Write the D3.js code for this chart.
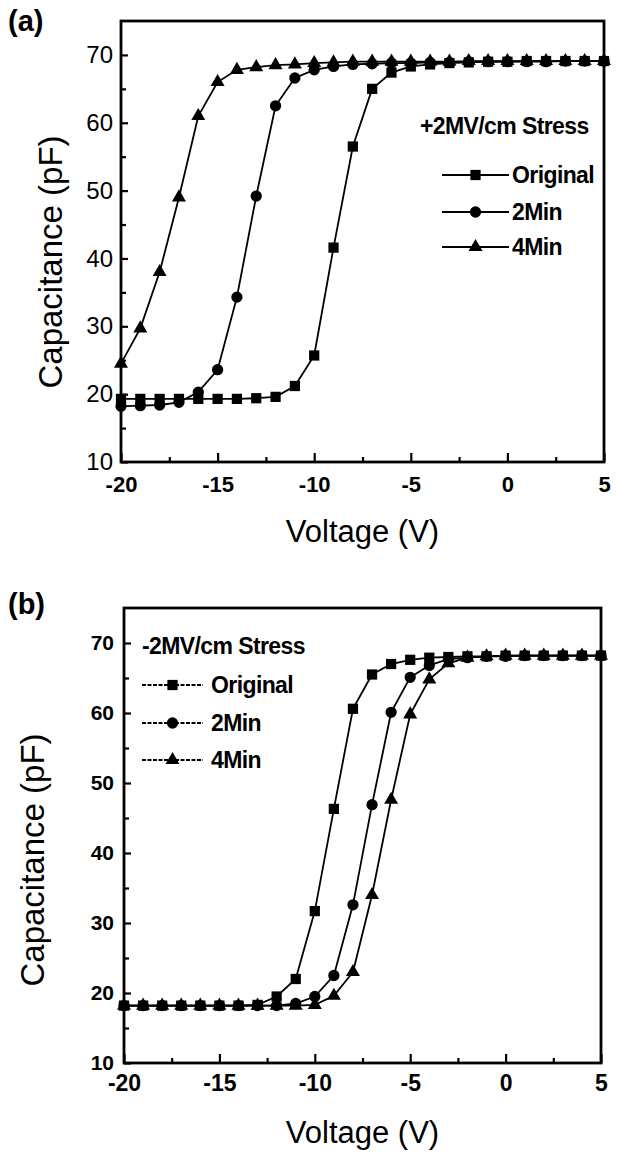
<!DOCTYPE html>
<html><head><meta charset="utf-8">
<script src="https://cdn.jsdelivr.net/npm/d3@7"></script>
<style>
html,body{margin:0;padding:0;background:#fff;}
svg{display:block;font-family:"Liberation Sans",Arial,sans-serif;}
</style></head>
<body><svg id="c" width="618" height="1153"></svg>
<script>
// ---- data ----
const voltages = [-20,-19,-18,-17,-16,-15,-14,-13,-12,-11,-10,-9,-8,-7,-6,-5,-4,-3,-2,-1,0,1,2,3,4,5];
const seriesNames = ["Original","2Min","4Min"];
const xTicks = [-20,-15,-10,-5,0,5];
const xMinorTicks = [-17.5,-12.5,-7.5,-2.5,2.5];
const yTicks = [10,20,30,40,50,60,70];
const yMinorTicks = [15,25,35,45,55,65];

// panel (a): +2MV/cm stress
const origA  = [19.3,19.3,19.3,19.3,19.3,19.3,19.3,19.4,19.6,21.2,25.7,41.6,56.5,65.0,67.4,68.3,68.6,68.8,68.9,69.0,69.0,69.1,69.1,69.1,69.1,69.1];
const twoA   = [18.2,18.3,18.4,18.8,20.3,23.6,34.3,49.2,62.5,66.6,67.8,68.3,68.6,68.7,68.8,68.8,68.9,68.9,69.0,69.0,69.0,69.0,69.0,69.1,69.1,69.1];
const fourA  = [24.5,29.7,38.0,49.0,61.0,66.0,67.8,68.2,68.5,68.6,68.8,68.9,69.0,69.0,69.0,69.0,69.0,69.0,69.1,69.1,69.1,69.1,69.1,69.1,69.1,69.1];

// panel (b): -2MV/cm stress
const origB  = [18.2,18.2,18.2,18.2,18.2,18.2,18.2,18.3,19.5,22.0,31.7,46.3,60.6,65.5,67.0,67.6,67.9,68.0,68.1,68.1,68.2,68.2,68.2,68.2,68.2,68.2];
const twoB   = [18.2,18.2,18.2,18.2,18.2,18.2,18.2,18.2,18.2,18.5,19.5,22.5,32.6,46.9,60.1,65.1,66.8,67.7,67.9,68.1,68.1,68.2,68.2,68.2,68.2,68.2];
const fourB  = [18.2,18.2,18.2,18.2,18.2,18.2,18.2,18.2,18.2,18.2,18.3,19.6,23.0,34.0,47.6,59.8,64.8,67.1,67.9,68.1,68.2,68.2,68.2,68.2,68.2,68.2];

const svg = d3.select("#c");
const symbols = [d3.symbolSquare, d3.symbolCircle, d3.symbolTriangle];
const symSizes = [105, 100, 85];

function panel(cfg){
  const x = d3.scaleLinear().domain([-20,5]).range([cfg.x0,cfg.x1]);
  const y = d3.scaleLinear().domain([10,75]).range([cfg.y1,cfg.y0]);
  const g = svg.append("g");

  // x axis major
  const xa = g.append("g").attr("transform",`translate(0,${cfg.y1})`)
    .call(d3.axisBottom(x).tickValues(xTicks).tickSize(-9).tickPadding(cfg.xPad).tickFormat(d3.format("d")));
  xa.selectAll("text").attr("font-size",cfg.xFont).attr("font-weight","bold").attr("fill","#000")
    .text(d=>d<0?"-"+Math.abs(d):d);
  g.append("g").attr("transform",`translate(0,${cfg.y1})`)
    .call(d3.axisBottom(x).tickValues(xMinorTicks).tickSize(-5).tickFormat(""));
  // y axis major
  const ya = g.append("g").attr("transform",`translate(${cfg.x0},0)`)
    .call(d3.axisLeft(y).tickValues(yTicks).tickSize(-7).tickPadding(cfg.yPad));
  ya.selectAll("text").attr("font-size",cfg.yFont).attr("font-weight",cfg.yBold?"bold":"normal").attr("fill","#000");
  g.append("g").attr("transform",`translate(${cfg.x0},0)`)
    .call(d3.axisLeft(y).tickValues(yMinorTicks).tickSize(-5).tickFormat(""));
  g.selectAll(".domain").remove();
  g.selectAll(".tick line").attr("stroke","#000").attr("stroke-width",2.2);

  // frame
  g.append("rect").attr("x",cfg.x0).attr("y",cfg.y0)
    .attr("width",cfg.x1-cfg.x0).attr("height",cfg.y1-cfg.y0)
    .attr("fill","none").attr("stroke","#000").attr("stroke-width",2.8);

  // series
  const line = d3.line().x((d,i)=>x(voltages[i])).y(d=>y(d));
  cfg.series.forEach((s,k)=>{
    g.append("path").datum(s).attr("d",line).attr("fill","none").attr("stroke","#000").attr("stroke-width",1.8);
  });
  cfg.series.forEach((s,k)=>{
    g.selectAll(null).data(s).enter().append("path")
      .attr("d",d3.symbol().type(symbols[k]).size(symSizes[k]))
      .attr("transform",(d,i)=>`translate(${x(voltages[i])},${y(d)})`)
      .attr("fill","#000");
  });

  // legend
  g.append("text").attr("x",cfg.legTitleX).attr("y",cfg.legTitleY)
    .attr("font-size",23).attr("font-weight","bold").attr("letter-spacing",-0.6).text(cfg.legTitle);
  seriesNames.forEach((n,k)=>{
    const ly = cfg.legY[k];
    g.append("line").attr("x1",cfg.legX0).attr("x2",cfg.legX1).attr("y1",ly).attr("y2",ly)
      .attr("stroke","#000").attr("stroke-width",2.2).attr("stroke-dasharray",cfg.legDash);
    g.append("path").attr("d",d3.symbol().type(symbols[k]).size(symSizes[k]))
      .attr("transform",`translate(${(cfg.legX0+cfg.legX1)/2},${ly})`);
    g.append("text").attr("x",cfg.legTextX).attr("y",ly+8)
      .attr("font-size",23).attr("font-weight","bold").attr("letter-spacing",-0.6).text(n);
  });

  // axis titles
  g.append("text").attr("x",(cfg.x0+cfg.x1)/2).attr("y",cfg.xTitleY).attr("text-anchor","middle")
    .attr("font-size",31).text("Voltage (V)");
  g.append("text").attr("transform",`translate(${cfg.yTitleX},${cfg.yTitleY}) rotate(-90)`)
    .attr("text-anchor","middle").attr("font-size",33).text("Capacitance (pF)");
  // panel label
  g.append("text").attr("x",8).attr("y",cfg.labelY).attr("font-size",29).attr("font-weight","bold").text(cfg.label);
}

panel({x0:121,x1:604,y0:21,y1:462, series:[origA,twoA,fourA],
  xPad:14, yPad:8, xFont:22, yFont:24, yBold:false,
  legTitle:"+2MV/cm Stress", legTitleX:420, legTitleY:134,
  legY:[175,212,247], legX0:442, legX1:509, legTextX:512, legDash:null,
  xTitleY:542, yTitleX:62, yTitleY:262, label:"(a)", labelY:31});

panel({x0:124,x1:601,y0:608,y1:1063, series:[origB,twoB,fourB],
  xPad:12, yPad:10, xFont:23, yFont:21, yBold:true,
  legTitle:"-2MV/cm Stress", legTitleX:142, legTitleY:654,
  legY:[685,723,760], legX0:142, legX1:203, legTextX:211, legDash:"4,1.5",
  xTitleY:1143, yTitleX:44, yTitleY:860, label:"(b)", labelY:614});
</script></body></html>
